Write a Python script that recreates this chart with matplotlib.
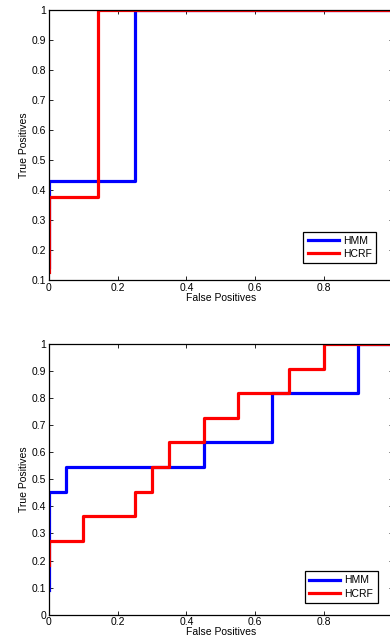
import matplotlib
matplotlib.use("Agg")
import matplotlib.pyplot as plt

plt.rcParams["font.family"] = ["Liberation Sans", "DejaVu Sans"]
plt.rcParams["font.size"] = 7.5

# top panel: ROC steps
top_hmm_fp = [0, 0, 0.25, 0.25, 1]
top_hmm_tp = [0.143, 0.4286, 0.4286, 1, 1]
top_hcrf_fp = [0, 0, 0.143, 0.143, 1]
top_hcrf_tp = [0.125, 0.375, 0.375, 1, 1]

# bottom panel
bot_hmm_fp = [0, 0, 0.05, 0.05, 0.45, 0.45, 0.65, 0.65, 0.9, 0.9, 1]
bot_hmm_tp = [0.0909, 0.4545, 0.4545, 0.5455, 0.5455, 0.6364, 0.6364, 0.8182, 0.8182, 1, 1]
bot_hcrf_fp = [0, 0, 0.1, 0.1, 0.25, 0.25, 0.3, 0.3, 0.35, 0.35, 0.45, 0.45,
               0.55, 0.55, 0.7, 0.7, 0.8, 0.8, 1]
bot_hcrf_tp = [0.1818, 0.2727, 0.2727, 0.3636, 0.3636, 0.4545, 0.4545, 0.5455,
               0.5455, 0.6364, 0.6364, 0.7273, 0.7273, 0.8182, 0.8182, 0.9091,
               0.9091, 1, 1]

xtick_vals = [0, 0.2, 0.4, 0.6, 0.8, 1]
xtick_labels = ["0", "0.2", "0.4", "0.6", "0.8", ""]  # "1" falls off the page

W, H = 390, 644
fig = plt.figure(figsize=(W / 100, H / 100), dpi=100)


def px_axes(x0, x1, y0, y1):
    return fig.add_axes([x0 / W, 1 - y1 / H, (x1 - x0) / W, (y1 - y0) / H])


def style(ax, ylo, yticks):
    ax.set_xlim(0, 1)
    ax.set_ylim(ylo, 1)
    ax.set_xticks(xtick_vals)
    ax.set_xticklabels(xtick_labels)
    ax.set_yticks(yticks)
    ax.set_yticklabels([("%g" % t) for t in yticks])
    ax.tick_params(direction="in", top=True, right=True, length=3, width=0.6, pad=2)
    for s in ax.spines.values():
        s.set_linewidth(0.9)
    ax.set_xlabel("False Positives", labelpad=0)
    ax.set_ylabel("True Positives", labelpad=2)


def legend(ax, xr, yb):
    ax.legend(loc="lower right", bbox_to_anchor=(xr / W, 1 - yb / H),
              bbox_transform=fig.transFigure, fancybox=False, edgecolor="black",
              framealpha=1, handlelength=3.0, handletextpad=0.4, borderpad=0.4,
              labelspacing=0.3, borderaxespad=0).get_frame().set_linewidth(0.9)


ax1 = px_axes(49, 392.5, 10, 280)
ax1.plot(top_hmm_fp, top_hmm_tp, color="#0000ff", lw=2.3, label="HMM")
ax1.plot(top_hcrf_fp, top_hcrf_tp, color="#ff0000", lw=2.3, label="HCRF")
style(ax1, 0.1, [0.1, 0.2, 0.3, 0.4, 0.5, 0.6, 0.7, 0.8, 0.9, 1])
legend(ax1, 376, 263)

ax2 = px_axes(49, 392.5, 344, 614.7)
ax2.plot(bot_hmm_fp, bot_hmm_tp, color="#0000ff", lw=2.3, label="HMM")
ax2.plot(bot_hcrf_fp, bot_hcrf_tp, color="#ff0000", lw=2.3, label="HCRF")
style(ax2, 0, [0, 0.1, 0.2, 0.3, 0.4, 0.5, 0.6, 0.7, 0.8, 0.9, 1])
legend(ax2, 377.5, 602.7)

fig.savefig("out.png", dpi=100)
